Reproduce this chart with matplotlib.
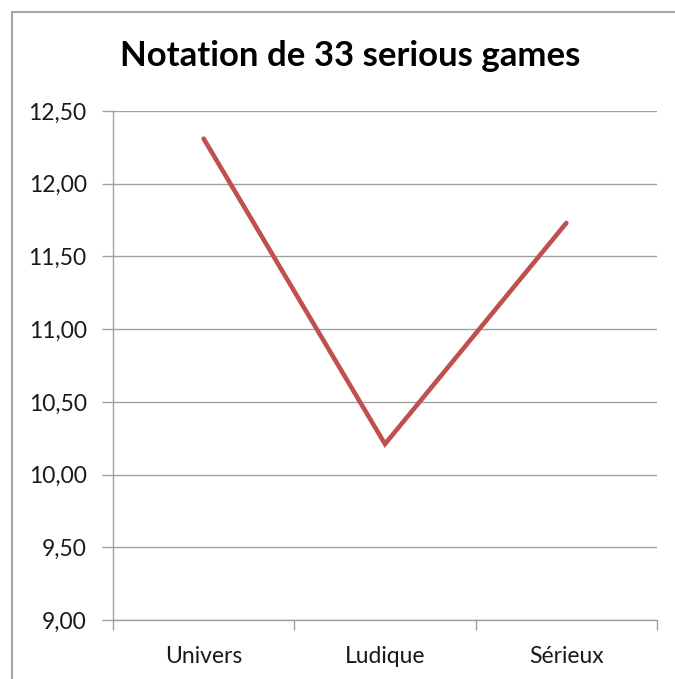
import matplotlib
matplotlib.use("Agg")
import matplotlib.pyplot as plt
from matplotlib.patches import Rectangle
from matplotlib.ticker import FixedLocator, FuncFormatter

categories = ["Univers", "Ludique", "Sérieux"]
values = [12.31, 10.21, 11.73]
yticks = [9.0, 9.5, 10.0, 10.5, 11.0, 11.5, 12.0, 12.5]
title = "Notation de 33 serious games"

W, H = 675, 679
fig = plt.figure(figsize=(W / 100, H / 100), dpi=100)
plt.rcParams['font.family'] = ['Lato', 'DejaVu Sans']

# outer chart border (cropped on right and bottom)
fig.patches.append(Rectangle((12 / W, -0.1), 2, (H - 12) / H + 0.1, transform=fig.transFigure,
                             fill=False, edgecolor="#A6A6A6", linewidth=1.5))

left, right, top, bottom = 113, 657, 111, 620
ax = fig.add_axes([left / W, 1 - bottom / H, (right - left) / W, (bottom - top) / H])

x = list(range(len(categories)))
ax.plot(x, values, color="#C0504D", linewidth=3.3, solid_capstyle="round", solid_joinstyle="miter", zorder=3)

ax.set_xlim(-0.5, len(categories) - 0.5)
ax.set_ylim(9.0, 12.5)
ax.yaxis.set_major_locator(FixedLocator(yticks))
ax.yaxis.set_major_formatter(FuncFormatter(lambda v, p: f"{v:.2f}".replace(".", ",")))
ax.grid(axis="y", color="#A0A0A0", linewidth=1.0)
ax.set_axisbelow(True)

ax.set_xticks(x)
ax.set_xticklabels(categories)
ax.xaxis.set_minor_locator(FixedLocator([-0.5, 0.5, 1.5, 2.5]))
ax.tick_params(axis="x", which="major", length=0, pad=19, labelsize=16.5, colors="#1a1a1a")
ax.tick_params(axis="x", which="minor", length=7, width=1.0, color="#A0A0A0")
ax.tick_params(axis="y", length=8, width=1.0, color="#A0A0A0", pad=11, labelsize=16.5, labelcolor="#1a1a1a")

for s in ["top", "right"]:
    ax.spines[s].set_visible(False)
for s in ["left", "bottom"]:
    ax.spines[s].set_color("#A0A0A0")
    ax.spines[s].set_linewidth(1.0)

fig.text(350 / W, 1 - 56 / H, title, ha="center", va="center", fontsize=25, fontweight="bold", color="#000000")

fig.savefig("out.png", dpi=100)
